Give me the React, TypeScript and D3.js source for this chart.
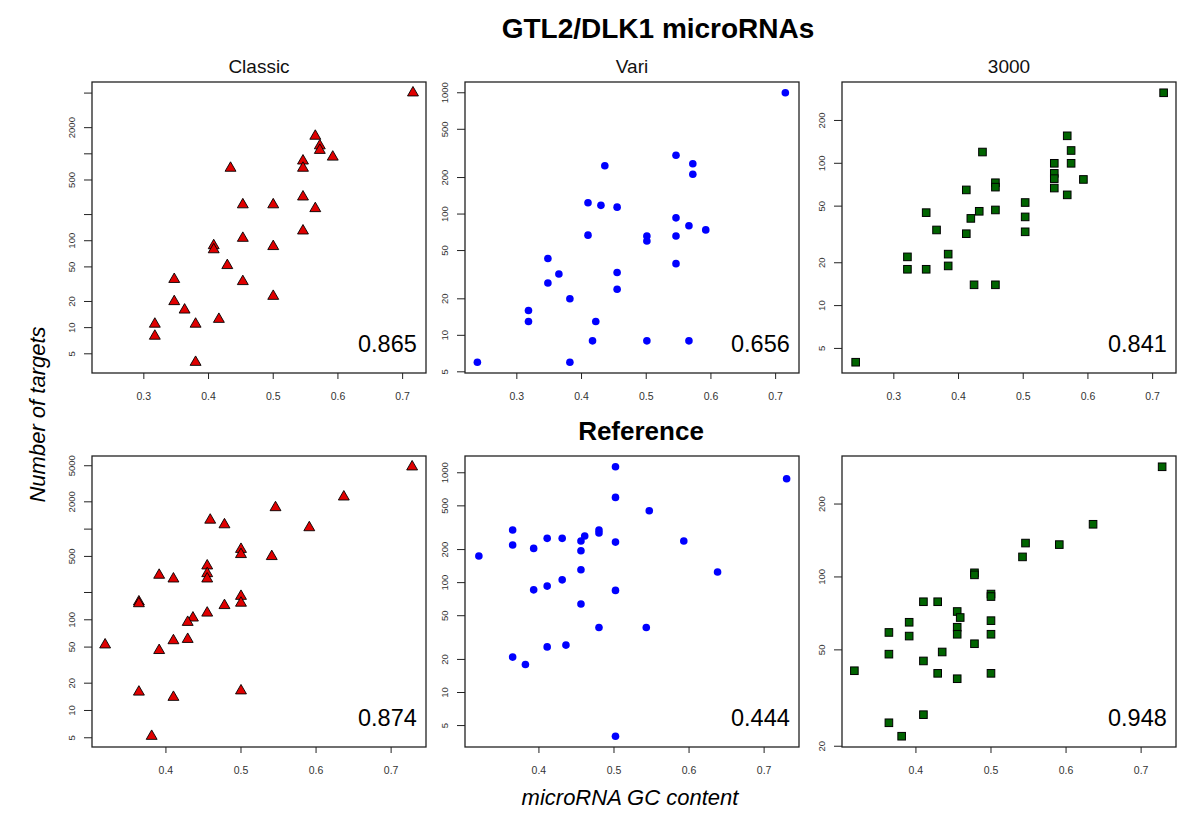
import React from "react";
import * as d3 from "d3";

// ---------- DATA ----------
// Top row: GTL2/DLK1 microRNAs
const classicGC = [0.716, 0.565, 0.572, 0.572, 0.592, 0.546, 0.546, 0.434, 0.546, 0.453, 0.5, 0.565, 0.546, 0.453, 0.408, 0.408, 0.5, 0.429, 0.347, 0.453, 0.5, 0.347, 0.363, 0.416, 0.317, 0.38, 0.317, 0.38];
const classicTargets = [5040, 1600, 1240, 1100, 920, 830, 685, 685, 320, 260, 260, 235, 130, 107, 88, 79, 86, 52, 36, 34, 23, 20, 16, 12.5, 11, 11, 8, 4];

const variGC = [0.715, 0.546, 0.572, 0.572, 0.436, 0.41, 0.43, 0.455, 0.546, 0.566, 0.592, 0.41, 0.546, 0.501, 0.501, 0.348, 0.365, 0.455, 0.348, 0.546, 0.455, 0.382, 0.318, 0.318, 0.422, 0.417, 0.501, 0.566, 0.239, 0.382];
const variTargets = [1000, 305, 260, 213, 250, 124, 118, 114, 93, 80, 74, 67, 66, 66, 60, 43, 32, 33, 27, 39, 24, 20, 16, 13, 13, 9, 9, 9, 6, 6];

const t3000GC = [0.717, 0.568, 0.574, 0.574, 0.437, 0.548, 0.548, 0.548, 0.548, 0.593, 0.568, 0.457, 0.457, 0.412, 0.457, 0.432, 0.419, 0.35, 0.503, 0.503, 0.503, 0.412, 0.366, 0.384, 0.384, 0.321, 0.321, 0.35, 0.424, 0.457, 0.241];
const t3000Targets = [313, 156, 123, 100, 120, 100, 85, 78, 67, 77, 60, 73, 68, 65, 47, 46, 41, 45, 53, 42, 33, 32, 34, 23, 19, 22, 18, 18, 14, 14, 4];

// Bottom row: Reference
const refClassicGC = [0.728, 0.637, 0.546, 0.459, 0.478, 0.591, 0.5, 0.5, 0.541, 0.455, 0.455, 0.455, 0.391, 0.41, 0.364, 0.364, 0.5, 0.5, 0.478, 0.455, 0.436, 0.429, 0.429, 0.41, 0.391, 0.319, 0.364, 0.41, 0.5, 0.381];
const refClassicTargets = [4870, 2270, 1730, 1260, 1120, 1040, 600, 526, 500, 394, 324, 283, 311, 283, 158, 151, 182, 153, 144, 119, 105, 94, 61, 59, 46, 53, 16, 14, 16.5, 5.2];

const refVariGC = [0.502, 0.73, 0.502, 0.547, 0.365, 0.48, 0.48, 0.411, 0.431, 0.461, 0.456, 0.502, 0.593, 0.365, 0.393, 0.456, 0.32, 0.456, 0.638, 0.431, 0.411, 0.393, 0.502, 0.456, 0.48, 0.543, 0.436, 0.411, 0.365, 0.382, 0.502];
const refVariTargets = [1134, 882, 597, 451, 301, 301, 283, 253, 253, 266, 239, 234, 239, 220, 205, 195, 175, 131, 125, 106, 93, 86, 85, 64, 39, 39, 27, 26, 21, 18, 4];

const ref3000GC = [0.728, 0.636, 0.546, 0.591, 0.542, 0.478, 0.478, 0.5, 0.5, 0.41, 0.429, 0.455, 0.459, 0.5, 0.391, 0.455, 0.364, 0.455, 0.5, 0.391, 0.478, 0.435, 0.364, 0.41, 0.318, 0.429, 0.5, 0.455, 0.41, 0.364, 0.381];
const ref3000Targets = [285, 165, 138, 136, 121, 104, 102, 85, 83, 79, 79, 72, 68, 66, 65, 62, 59, 58, 58, 57, 53, 49, 48, 45, 41, 40, 40, 38, 27, 25, 22];

// Correlations
const correlations = ["0.865", "0.656", "0.841", "0.874", "0.444", "0.948"];
const panelTitles = ["Classic", "Vari", "3000"];

// Tick values
const topXTicks = [0.3, 0.4, 0.5, 0.6, 0.7];
const bottomXTicks = [0.4, 0.5, 0.6, 0.7];
const yTicksClassic = [5, 10, 20, 50, 100, 200, 500, 1000, 2000, 5000];
const yLabelsClassicTop = [5, 10, 20, 50, 100, 500, 2000];
const yLabelsClassicRef = [5, 10, 20, 50, 100, 500, 2000, 5000];
const yTicksVari = [5, 10, 20, 50, 100, 200, 500, 1000];
const yTicks3000Top = [5, 10, 20, 50, 100, 200];
const yTicks3000Ref = [20, 50, 100, 200];

const FONT = "'Liberation Sans', Arial, Helvetica, sans-serif";

type Marker = "triangle" | "circle" | "square";

function padExtent(vals: number[], log: boolean): [number, number] {
  const v = log ? vals.map((d) => Math.log10(d)) : vals;
  const [a, b] = d3.extent(v) as [number, number];
  const p = (b - a) * 0.04;
  return log ? [Math.pow(10, a - p), Math.pow(10, b + p)] : [a - p, b + p];
}

interface PanelProps {
  left: number;
  top: number;
  w: number;
  h: number;
  gc: number[];
  targets: number[];
  xDomain: [number, number];
  xTicks: number[];
  yTicks: number[];
  yLabels: number[];
  marker: Marker;
  corr: string;
  title?: string;
}

function Panel(p: PanelProps) {
  const x = d3.scaleLinear().domain(p.xDomain).range([p.left, p.left + p.w]);
  const y = d3
    .scaleLog()
    .domain(padExtent(p.targets, true))
    .range([p.top + p.h, p.top]);
  const bottom = p.top + p.h;
  const axisCol = "#222";
  const marks = p.gc.map((g, i) => {
    const cx = x(g);
    const cy = y(p.targets[i]);
    if (p.marker === "triangle") {
      const r = 6.3;
      const xc = r * 0.866;
      return (
        <path
          key={i}
          d={`M${cx},${cy - r}L${cx + xc},${cy + r / 2}L${cx - xc},${cy + r / 2}Z`}
          fill="#e00000"
          stroke="#000"
          strokeWidth={0.9}
        />
      );
    }
    if (p.marker === "circle") {
      return <circle key={i} cx={cx} cy={cy} r={3.8} fill="#0000ff" />;
    }
    const s = 7.6;
    return (
      <rect
        key={i}
        x={cx - s / 2}
        y={cy - s / 2}
        width={s}
        height={s}
        fill="#006400"
        stroke="#000"
        strokeWidth={1}
      />
    );
  });
  return (
    <g>
      {p.title && (
        <text x={p.left + p.w / 2} y={73} textAnchor="middle" fontSize={19} fontFamily={FONT} fill="#111">
          {p.title}
        </text>
      )}
      {marks}
      <rect x={p.left} y={p.top} width={p.w} height={p.h} fill="none" stroke={axisCol} strokeWidth={1.3} />
      {p.xTicks.map((t) => (
        <g key={"x" + t}>
          <line x1={x(t)} x2={x(t)} y1={bottom} y2={bottom + 6} stroke={axisCol} strokeWidth={1} />
          <text x={x(t)} y={bottom + 27} textAnchor="middle" fontSize={10.5} fontFamily={FONT} fill="#333">
            {t}
          </text>
        </g>
      ))}
      {p.yTicks.map((t) => (
        <g key={"y" + t}>
          <line x1={p.left - 8} x2={p.left} y1={y(t)} y2={y(t)} stroke={axisCol} strokeWidth={1} />
          {p.yLabels.includes(t) && (
            <text
              transform={`translate(${p.left - 17},${y(t)}) rotate(-90)`}
              textAnchor="middle"
              fontSize={9.5}
              fontFamily={FONT}
              fill="#333"
            >
              {t}
            </text>
          )}
        </g>
      ))}
      <text x={p.left + 266} y={bottom - 21} fontSize={23.5} fontFamily={FONT} fill="#000">
        {p.corr}
      </text>
    </g>
  );
}

export default function App() {
  const W = 1200;
  const H = 826;
  const cols = [92, 465, 842];
  const pw = 334;
  const rows = [82, 456];
  const ph = 291;

  const topX = padExtent([...classicGC, ...variGC, ...t3000GC], false);
  const botX = padExtent([...refClassicGC, ...refVariGC, ...ref3000GC], false);

  const panels: PanelProps[] = [
    { left: cols[0], top: rows[0], w: pw, h: ph, gc: classicGC, targets: classicTargets, xDomain: topX, xTicks: topXTicks, yTicks: yTicksClassic, yLabels: yLabelsClassicTop, marker: "triangle", corr: correlations[0], title: panelTitles[0] },
    { left: cols[1], top: rows[0], w: pw, h: ph, gc: variGC, targets: variTargets, xDomain: topX, xTicks: topXTicks, yTicks: yTicksVari, yLabels: yTicksVari, marker: "circle", corr: correlations[1], title: panelTitles[1] },
    { left: cols[2], top: rows[0], w: pw, h: ph, gc: t3000GC, targets: t3000Targets, xDomain: topX, xTicks: topXTicks, yTicks: yTicks3000Top, yLabels: yTicks3000Top, marker: "square", corr: correlations[2], title: panelTitles[2] },
    { left: cols[0], top: rows[1], w: pw, h: ph, gc: refClassicGC, targets: refClassicTargets, xDomain: botX, xTicks: bottomXTicks, yTicks: yTicksClassic, yLabels: yLabelsClassicRef, marker: "triangle", corr: correlations[3] },
    { left: cols[1], top: rows[1], w: pw, h: ph, gc: refVariGC, targets: refVariTargets, xDomain: botX, xTicks: bottomXTicks, yTicks: yTicksVari, yLabels: yTicksVari, marker: "circle", corr: correlations[4] },
    { left: cols[2], top: rows[1], w: pw, h: ph, gc: ref3000GC, targets: ref3000Targets, xDomain: botX, xTicks: bottomXTicks, yTicks: yTicks3000Ref, yLabels: yTicks3000Ref, marker: "square", corr: correlations[5] },
  ];

  return (
    <svg
      width={W}
      height={H}
      style={{ position: "absolute", left: 0, top: 0, background: "#fff" }}
    >
      <rect width={W} height={H} fill="#fff" />
      <text x={658} y={38} textAnchor="middle" fontSize={28} fontWeight="bold" fontFamily={FONT} fill="#000">
        GTL2/DLK1 microRNAs
      </text>
      <text x={641} y={440} textAnchor="middle" fontSize={26} fontWeight="bold" fontFamily={FONT} fill="#000">
        Reference
      </text>
      <text
        transform={`translate(45,${(rows[0] + rows[1] + ph) / 2}) rotate(-90)`}
        textAnchor="middle"
        fontSize={22}
        fontStyle="italic"
        fontFamily={FONT}
        fill="#000"
      >
        Number of targets
      </text>
      <text x={630} y={805} textAnchor="middle" fontSize={22} fontStyle="italic" fontFamily={FONT} fill="#000">
        microRNA GC content
      </text>
      {panels.map((p, i) => (
        <Panel key={i} {...p} />
      ))}
    </svg>
  );
}
